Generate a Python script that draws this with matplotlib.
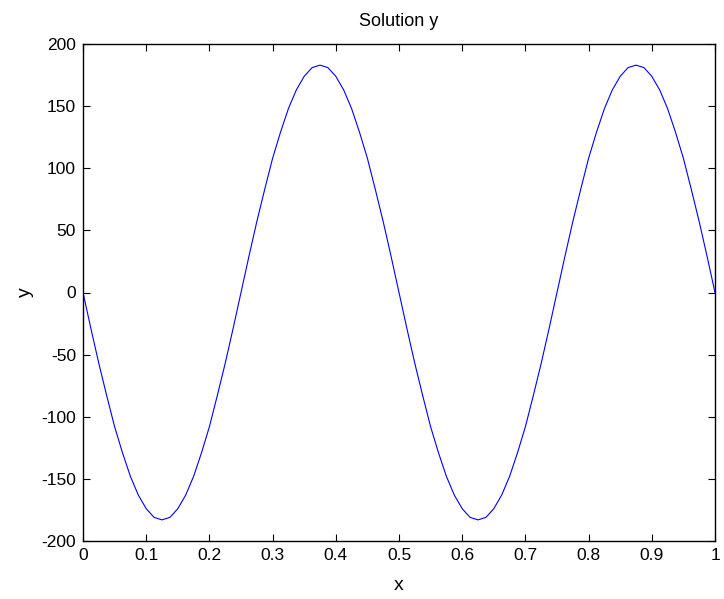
import matplotlib
matplotlib.use('Agg')
from matplotlib import pyplot as plt

plt.rcParams['font.family'] = ['Liberation Sans', 'DejaVu Sans']
plt.rcParams['axes.unicode_minus'] = False

x = [k * 0.0125 for k in range(81)]
y = [0, -29, -57, -83, -108, -129, -148, -163, -174, -181,
     -183, -181, -174, -163, -148, -129, -108, -83, -57, -29,
     0, 29, 57, 83, 108, 129, 148, 163, 174, 181,
     183, 181, 174, 163, 148, 129, 108, 83, 57, 29,
     0, -29, -57, -83, -108, -129, -148, -163, -174, -181,
     -183, -181, -174, -163, -148, -129, -108, -83, -57, -29,
     0, 29, 57, 83, 108, 129, 148, 163, 174, 181,
     183, 181, 174, 163, 148, 129, 108, 83, 57, 29,
     0]

x_ticks = [0, 0.1, 0.2, 0.3, 0.4, 0.5, 0.6, 0.7, 0.8, 0.9, 1]
x_tick_labels = ['0', '0.1', '0.2', '0.3', '0.4', '0.5', '0.6', '0.7', '0.8', '0.9', '1']
y_ticks = [-200, -150, -100, -50, 0, 50, 100, 150, 200]

fig = plt.figure(figsize=(7.24, 5.99), dpi=100)
ax = fig.add_axes([83 / 724, 1 - 541 / 599, (715 - 83) / 724, (541 - 44) / 599])
ax.plot(x, y, color='#0000ff', lw=0.8)
ax.set_xlim(0, 1)
ax.set_ylim(-200, 200)
ax.set_xticks(x_ticks)
ax.set_xticklabels(x_tick_labels)
ax.set_yticks(y_ticks)
ax.tick_params(direction='in', length=5, width=0.8, labelsize=12.5, top=True, right=True, pad=5)
for s in ax.spines.values():
    s.set_linewidth(1.0)
ax.set_xlabel('x', fontsize=14, labelpad=10)
ax.set_ylabel('y', fontsize=14, labelpad=5)
ax.set_title('Solution y', fontsize=13, pad=13)

fig.savefig('out.png', dpi=100)
